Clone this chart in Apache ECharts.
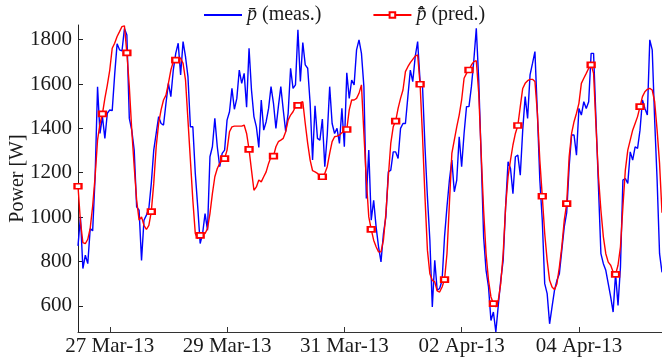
<!DOCTYPE html>
<html>
<head>
<meta charset="utf-8">
<script src="https://cdn.jsdelivr.net/npm/echarts@6/dist/echarts.min.js"></script>
<style>
  html, body { margin: 0; padding: 0; background: #fff; }
  #main { width: 662px; height: 360px; }
</style>
</head>
<body>
<div id="main"></div>
<script>
// hourly samples, first one at 26 Mar 2013 11:00
const startHour = Date.UTC(2013, 2, 26, 11);
const tickLabels = ['27 Mar-13', '29 Mar-13', '31 Mar-13', '02 Apr-13', '04 Apr-13'];
const yTicks = [600, 800, 1000, 1200, 1400, 1600, 1800];

// measured power [W]
const measured = [
  870, 1001, 768, 828, 790, 948, 938, 1180, 1588, 1377,
  1453, 1355, 1468, 1483, 1480, 1641, 1781, 1754, 1749, 1850,
  1821, 1445, 1392, 1302, 1046, 1031, 805, 986, 1009, 1039,
  1152, 1302, 1377, 1453, 1422, 1415, 1513, 1603, 1543, 1663,
  1738, 1784, 1641, 1791, 1723, 1633, 1407, 1407, 1197, 1046,
  881, 926, 1016, 941, 1272, 1317, 1445, 1317, 1227, 1287,
  1302, 1437, 1475, 1580, 1486, 1535, 1663, 1603, 1648, 1495,
  1761, 1573, 1453, 1407, 1314, 1528, 1392, 1430, 1490, 1588,
  1513, 1400, 1498, 1588, 1483, 1385, 1468, 1671, 1580, 1596,
  1844, 1611, 1787, 1686, 1671, 1513, 1257, 1502, 1355, 1347,
  1442, 1227, 1370, 1588, 1422, 1377, 1400, 1332, 1490, 1317,
  1651, 1535, 1618, 1596, 1754, 1799, 1738, 1588, 1084, 1302,
  986, 1076, 956, 866, 798, 926, 1001, 1204, 1212, 1294,
  1294, 1264, 1400, 1422, 1422, 1543, 1663, 1611, 1723, 1791,
  1611, 1588, 1317, 1091, 896, 595, 805, 670, 678, 715,
  911, 1046, 1167, 1257, 1114, 1167, 1362, 1227, 1377, 1498,
  1498, 1588, 1708, 1851, 1618, 1272, 911, 760, 685, 534,
  572, 482, 602, 715, 805, 1046, 1249, 1219, 1106, 1272,
  1279, 1189, 1392, 1543, 1445, 1641, 1693, 1746, 1468, 1167,
  986, 700, 655, 519, 595, 670, 715, 745, 851, 956,
  1020, 1227, 1370, 1370, 1279, 1490, 1460, 1520, 1490, 1520,
  1738, 1738, 1437, 1136, 835, 790, 760, 700, 640, 572,
  745, 602, 775, 1167, 1174, 1152, 1294, 1257, 1317, 1310,
  1392, 1528, 1490, 1460, 1799, 1754, 1437, 1167, 835, 751
];

// predicted power [W]
const predicted = [
  1139, 980, 885, 880, 900, 950, 1050, 1182, 1347, 1422,
  1465, 1535, 1595, 1663, 1761, 1784, 1814, 1836, 1859, 1862,
  1740, 1588, 1392, 1227, 1076, 986, 1001, 963, 944, 963,
  1025, 1152, 1317, 1422, 1483, 1528, 1550, 1603, 1663, 1701,
  1708, 1716, 1716, 1693, 1618, 1437, 1257, 1076, 926, 903,
  918, 926, 926, 948, 1016, 1106, 1182, 1219, 1242, 1257,
  1264, 1302, 1385, 1407, 1410, 1410, 1410, 1410, 1415, 1377,
  1305, 1212, 1121, 1136, 1167, 1159, 1182, 1204, 1242, 1272,
  1275, 1317, 1340, 1347, 1355, 1385, 1437, 1460, 1475, 1498,
  1504, 1516, 1520, 1422, 1332, 1257, 1209, 1204, 1197, 1185,
  1182, 1197, 1227, 1287, 1340, 1362, 1365, 1370, 1380, 1389,
  1395, 1483, 1528, 1528, 1535, 1558, 1596, 1377, 1167, 1001,
  945, 896, 866, 843, 843, 896, 1016, 1182, 1332, 1407,
  1433, 1490, 1535, 1573, 1656, 1678, 1696, 1711, 1726, 1731,
  1599, 1362, 1091, 851, 745, 715, 708, 667, 662, 685,
  718, 835, 1061, 1287, 1347, 1407, 1460, 1528, 1626, 1648,
  1663, 1686, 1701, 1705, 1558, 1287, 1031, 835, 715, 640,
  610, 595, 625, 700, 835, 1046, 1182, 1257, 1325, 1377,
  1413, 1498, 1580, 1603, 1615, 1621, 1621, 1611, 1468, 1257,
  1094, 926, 805, 715, 685, 673, 700, 775, 866, 986,
  1061, 1272, 1377, 1430, 1468, 1513, 1603, 1626, 1648, 1671,
  1686, 1648, 1407, 1182, 1031, 911, 835, 797, 783, 753,
  742, 783, 866, 1046, 1212, 1302, 1347, 1392, 1422, 1453,
  1498, 1543, 1565, 1576, 1580, 1573, 1520, 1392, 1242, 1020
];

const markerEvery = 10;

const months = ['Jan', 'Feb', 'Mar', 'Apr', 'May', 'Jun', 'Jul', 'Aug', 'Sep', 'Oct', 'Nov', 'Dec'];
function pad(n) { return n < 10 ? '0' + n : '' + n; }

// category per hour: "27 Mar-13 00:00"
const hours = measured.map(function (v, i) {
  const d = new Date(startHour + i * 3600 * 1000);
  return pad(d.getUTCDate()) + ' ' + months[d.getUTCMonth()] + '-13 ' + pad(d.getUTCHours()) + ':00';
});

function isTick(index) {
  const c = hours[index];
  return c.slice(-5) === '00:00' && tickLabels.indexOf(c.slice(0, 9)) >= 0;
}

const predData = predicted.map(function (v, i) {
  return i % markerEvery === 0 ? v : { value: v, symbol: 'none' };
});

const serif = 'Liberation Serif, Times New Roman, serif';
const ink = '#1a1a1a';

const chart = echarts.init(document.getElementById('main'));
chart.setOption({
  animation: false,
  backgroundColor: '#fff',
  grid: { left: 78, right: 0, top: 25, bottom: 28, containLabel: false, outerBoundsMode: 'none' },
  legend: {
    left: 203,
    top: 5,
    padding: 0,
    itemWidth: 38,
    itemHeight: 7,
    itemGap: 51,
    formatter: function (name) {
      return name === 'meas'
        ? '{p|p\u0304} (meas.)'
        : '{p|p\u0304\u0302} (pred.)';
    },
    textStyle: {
      fontFamily: serif, fontSize: 20, color: ink,
      rich: { p: { fontFamily: serif, fontStyle: 'italic', fontSize: 20, color: ink } }
    },
    // measured line has no marker in the key
    data: [{ name: 'meas', itemStyle: { opacity: 0 } }, 'pred']
  },
  xAxis: {
    type: 'category',
    data: hours,
    boundaryGap: false,
    axisLine: { show: true, lineStyle: { color: '#333', width: 1 } },
    axisTick: { show: true, inside: true, length: 5, interval: isTick, lineStyle: { color: '#333' } },
    axisLabel: {
      interval: isTick,
      margin: 4,
      fontFamily: serif,
      fontSize: 21,
      color: ink,
      formatter: function (v) { return v.slice(0, 9); }
    },
    splitLine: { show: false }
  },
  yAxis: {
    type: 'value',
    min: 482,
    max: 1866,
    name: 'Power [W]',
    nameLocation: 'middle',
    nameGap: 50,
    nameMoveOverlap: false,
    nameTextStyle: { fontFamily: serif, fontSize: 20, color: ink },
    axisLine: { show: true, lineStyle: { color: '#222', width: 1 } },
    axisTick: { show: true, inside: true, length: 5, customValues: yTicks, lineStyle: { color: '#222' } },
    axisLabel: {
      customValues: yTicks, margin: 6, fontFamily: serif, fontSize: 21, color: ink,
      formatter: function (v) { return String(v); }
    },
    splitLine: { show: false }
  },
  series: [
    {
      name: 'meas',
      type: 'line',
      data: measured,
      symbol: 'none',
      lineStyle: { color: '#0000ff', width: 1.4 },
      itemStyle: { color: '#0000ff' }
    },
    {
      name: 'pred',
      type: 'line',
      data: predData,
      symbol: 'emptyRect',
      symbolSize: [7, 5],
      showSymbol: true,
      showAllSymbol: true,
      lineStyle: { color: '#ff0000', width: 1.4 },
      itemStyle: { color: '#ff0000', borderColor: '#ff0000', borderWidth: 1 }
    }
  ]
});
</script>
</body>
</html>
